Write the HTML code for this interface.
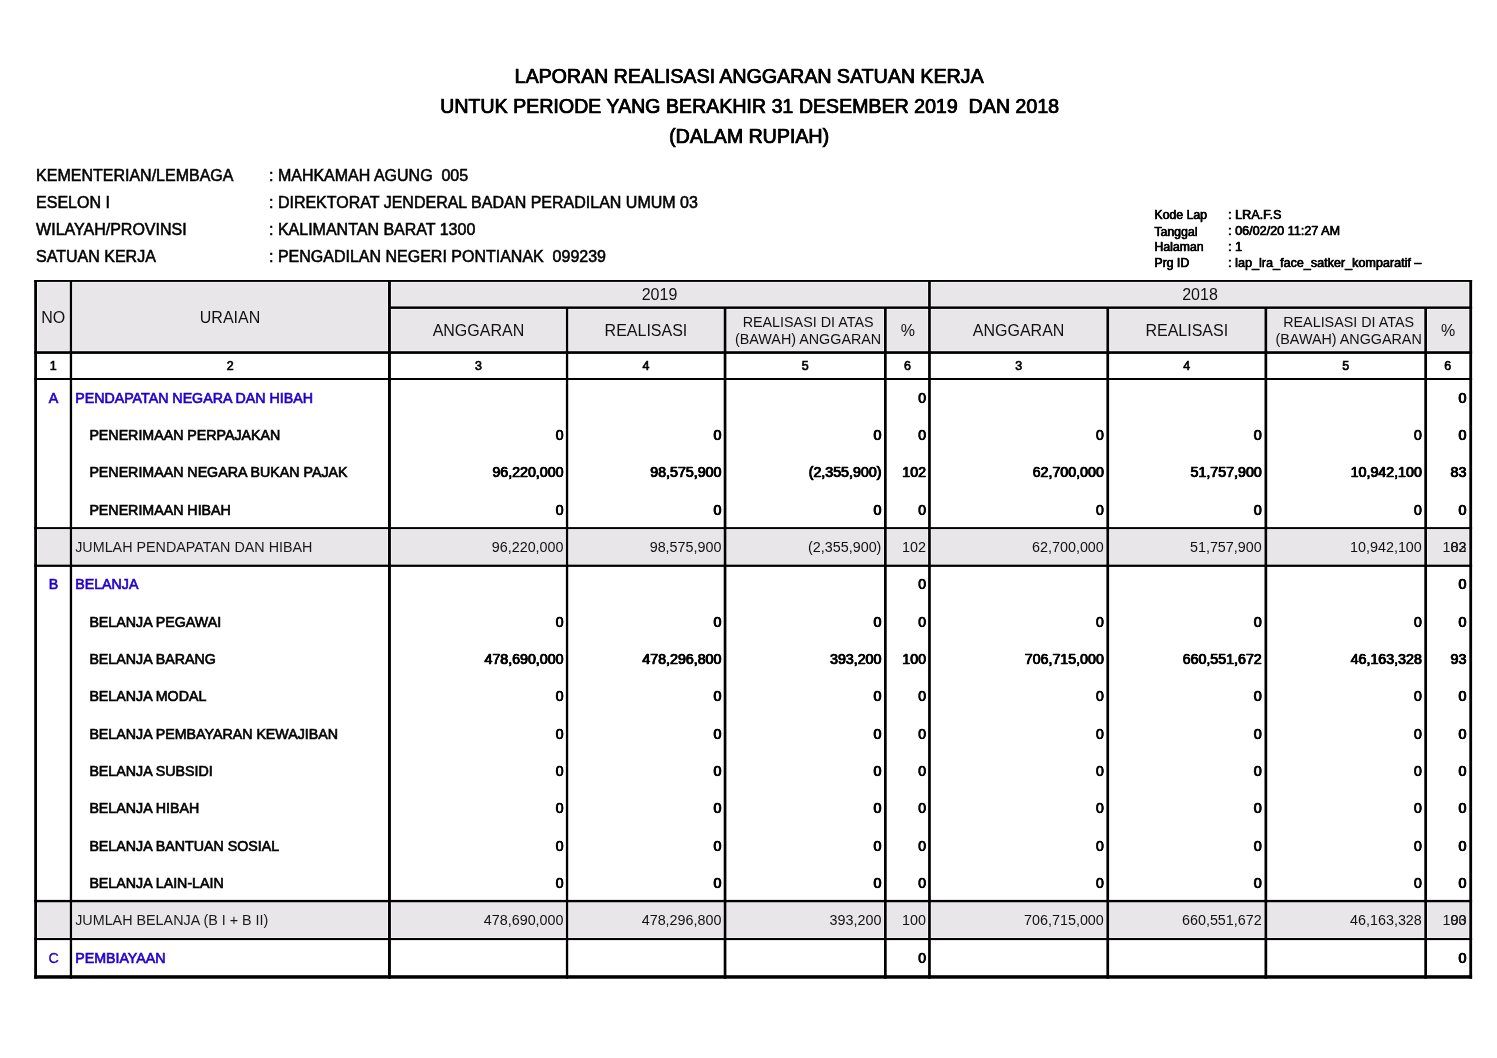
<!DOCTYPE html>
<html><head><meta charset="utf-8"><title>Laporan Realisasi Anggaran</title>
<style>
html,body{margin:0;padding:0;background:#fff;}
body{width:1497px;height:1058px;position:relative;overflow:hidden;font-family:"Liberation Sans",sans-serif;color:#000;}
.r{position:absolute;}
.t{position:absolute;white-space:nowrap;color:#111;}
#pg{position:absolute;left:0;top:0;width:1497px;height:1058px;will-change:transform;}
.b{color:#000;-webkit-text-stroke:0.65px currentColor;}
.n{-webkit-text-stroke:0.5px currentColor;text-shadow:0.35px 0 0 currentColor,0.7px 0 0 currentColor;}
.h{-webkit-text-stroke:0.55px currentColor;}
.c{-webkit-text-stroke:0.3px currentColor;}
.b2{-webkit-text-stroke:0.5px currentColor;text-shadow:0.4px 0 0 currentColor;}
.b3{-webkit-text-stroke:0.6px currentColor;text-shadow:0.5px 0 0 currentColor;transform:scaleY(1.035);transform-origin:0 84.65%;}
</style></head><body><div id="pg">
<svg width="1497" height="1058" viewBox="0 0 1497 1058" style="position:absolute;left:0;top:0" fill="#000"><rect x="37.55" y="282.45" width="31.70" height="68.20" fill="#e8e6e9"/><rect x="72.65" y="282.45" width="314.80" height="68.20" fill="#e8e6e9"/><rect x="391.45" y="282.45" width="536.10" height="23.40" fill="#e8e6e9"/><rect x="931.35" y="282.45" width="537.40" height="23.40" fill="#e8e6e9"/><rect x="391.45" y="309.45" width="173.90" height="41.20" fill="#e8e6e9"/><rect x="568.75" y="309.45" width="154.40" height="41.20" fill="#e8e6e9"/><rect x="726.95" y="309.45" width="156.50" height="41.20" fill="#e8e6e9"/><rect x="887.25" y="309.45" width="40.30" height="41.20" fill="#e8e6e9"/><rect x="931.35" y="309.45" width="174.50" height="41.20" fill="#e8e6e9"/><rect x="1109.65" y="309.45" width="154.30" height="41.20" fill="#e8e6e9"/><rect x="1267.75" y="309.45" width="156.00" height="41.20" fill="#e8e6e9"/><rect x="1427.55" y="309.45" width="41.20" height="41.20" fill="#e8e6e9"/><rect x="37.55" y="529.65" width="31.70" height="34.40" fill="#e8e6e9"/><rect x="37.55" y="902.85" width="31.70" height="34.60" fill="#e8e6e9"/><rect x="72.65" y="529.65" width="314.80" height="34.40" fill="#e8e6e9"/><rect x="72.65" y="902.85" width="314.80" height="34.60" fill="#e8e6e9"/><rect x="391.45" y="529.65" width="173.90" height="34.40" fill="#e8e6e9"/><rect x="391.45" y="902.85" width="173.90" height="34.60" fill="#e8e6e9"/><rect x="568.75" y="529.65" width="154.40" height="34.40" fill="#e8e6e9"/><rect x="568.75" y="902.85" width="154.40" height="34.60" fill="#e8e6e9"/><rect x="726.95" y="529.65" width="156.50" height="34.40" fill="#e8e6e9"/><rect x="726.95" y="902.85" width="156.50" height="34.60" fill="#e8e6e9"/><rect x="887.25" y="529.65" width="40.30" height="34.40" fill="#e8e6e9"/><rect x="887.25" y="902.85" width="40.30" height="34.60" fill="#e8e6e9"/><rect x="931.35" y="529.65" width="174.50" height="34.40" fill="#e8e6e9"/><rect x="931.35" y="902.85" width="174.50" height="34.60" fill="#e8e6e9"/><rect x="1109.65" y="529.65" width="154.30" height="34.40" fill="#e8e6e9"/><rect x="1109.65" y="902.85" width="154.30" height="34.60" fill="#e8e6e9"/><rect x="1267.75" y="529.65" width="156.00" height="34.40" fill="#e8e6e9"/><rect x="1267.75" y="902.85" width="156.00" height="34.60" fill="#e8e6e9"/><rect x="1427.55" y="529.65" width="41.20" height="34.40" fill="#e8e6e9"/><rect x="1427.55" y="902.85" width="41.20" height="34.60" fill="#e8e6e9"/><rect x="34.20" y="280.00" width="1437.90" height="1.90"/><rect x="34.20" y="351.20" width="1437.90" height="2.70"/><rect x="34.20" y="378.00" width="1437.90" height="2.00"/><rect x="34.20" y="527.10" width="1437.90" height="2.00"/><rect x="34.20" y="564.60" width="1437.90" height="2.30"/><rect x="34.20" y="899.90" width="1437.90" height="2.40"/><rect x="34.20" y="938.00" width="1437.90" height="2.10"/><rect x="34.20" y="975.20" width="1437.90" height="3.50"/><rect x="388.10" y="306.40" width="1084.00" height="2.50"/><rect x="34.20" y="280.00" width="2.80" height="698.70"/><rect x="69.80" y="280.00" width="2.30" height="698.70"/><rect x="388.00" y="280.00" width="2.90" height="698.70"/><rect x="565.90" y="307.20" width="2.30" height="671.50"/><rect x="723.70" y="307.20" width="2.70" height="671.50"/><rect x="884.00" y="307.20" width="2.70" height="671.50"/><rect x="928.10" y="280.00" width="2.70" height="698.70"/><rect x="1106.40" y="307.20" width="2.70" height="671.50"/><rect x="1264.50" y="307.20" width="2.70" height="671.50"/><rect x="1424.30" y="307.20" width="2.70" height="671.50"/><rect x="1469.30" y="280.00" width="2.80" height="698.70"/></svg>
<div class="t b b3" style="font-size:19.6px;line-height:19.6px;top:67.41px;left:349.00px;width:800px;text-align:center;">LAPORAN REALISASI ANGGARAN SATUAN KERJA</div>
<div class="t b b3" style="font-size:19.6px;line-height:19.6px;top:97.41px;left:349.50px;width:800px;text-align:center;">UNTUK PERIODE YANG BERAKHIR 31 DESEMBER 2019&nbsp; DAN 2018</div>
<div class="t b b3" style="font-size:19.6px;line-height:19.6px;top:126.91px;left:349.00px;width:800px;text-align:center;">(DALAM RUPIAH)</div>
<div class="t b h" style="font-size:16px;line-height:16px;top:168.46px;left:36.10px;">KEMENTERIAN/LEMBAGA</div>
<div class="t b h" style="font-size:16px;line-height:16px;top:168.46px;left:269.00px;">: MAHKAMAH AGUNG&nbsp; 005</div>
<div class="t b h" style="font-size:16px;line-height:16px;top:195.26px;left:36.10px;">ESELON I</div>
<div class="t b h" style="font-size:16px;line-height:16px;top:195.26px;left:269.00px;">: DIREKTORAT JENDERAL BADAN PERADILAN UMUM 03</div>
<div class="t b h" style="font-size:16px;line-height:16px;top:221.76px;left:36.10px;">WILAYAH/PROVINSI</div>
<div class="t b h" style="font-size:16px;line-height:16px;top:221.76px;left:269.00px;">: KALIMANTAN BARAT 1300</div>
<div class="t b h" style="font-size:16px;line-height:16px;top:248.56px;left:36.10px;">SATUAN KERJA</div>
<div class="t b h" style="font-size:16px;line-height:16px;top:248.56px;left:269.00px;">: PENGADILAN NEGERI PONTIANAK&nbsp; 099239</div>
<div class="t b b2" style="font-size:12.3px;line-height:12.3px;top:209.39px;left:1154.30px;">Kode Lap</div>
<div class="t b b2" style="font-size:12.6px;line-height:12.6px;top:209.13px;left:1228.10px;">: LRA.F.S</div>
<div class="t b b2" style="font-size:12.3px;line-height:12.3px;top:225.69px;left:1154.30px;">Tanggal</div>
<div class="t b b2" style="font-size:12.6px;line-height:12.6px;top:225.43px;left:1228.10px;">: 06/02/20 11:27 AM</div>
<div class="t b b2" style="font-size:12.3px;line-height:12.3px;top:241.09px;left:1154.30px;">Halaman</div>
<div class="t b b2" style="font-size:12.6px;line-height:12.6px;top:240.83px;left:1228.10px;">: 1</div>
<div class="t b b2" style="font-size:12.3px;line-height:12.3px;top:257.39px;left:1154.30px;">Prg ID</div>
<div class="t b b2" style="font-size:12.6px;line-height:12.6px;top:257.13px;left:1228.10px;">: lap_lra_face_satker_komparatif &ndash;</div>
<div class="t " style="font-size:16px;line-height:16px;top:310.46px;left:-346.70px;width:800px;text-align:center;">NO</div>
<div class="t " style="font-size:16px;line-height:16px;top:310.46px;left:-170.00px;width:800px;text-align:center;">URAIAN</div>
<div class="t " style="font-size:16px;line-height:16px;top:286.86px;left:259.50px;width:800px;text-align:center;">2019</div>
<div class="t " style="font-size:16px;line-height:16px;top:286.86px;left:800.00px;width:800px;text-align:center;">2018</div>
<div class="t " style="font-size:16px;line-height:16px;top:322.66px;left:78.45px;width:800px;text-align:center;">ANGGARAN</div>
<div class="t " style="font-size:16px;line-height:16px;top:322.66px;left:618.60px;width:800px;text-align:center;">ANGGARAN</div>
<div class="t " style="font-size:16px;line-height:16px;top:322.66px;left:245.95px;width:800px;text-align:center;">REALISASI</div>
<div class="t " style="font-size:16px;line-height:16px;top:322.66px;left:786.80px;width:800px;text-align:center;">REALISASI</div>
<div class="t " style="font-size:14.34px;line-height:14.34px;top:315.06px;left:408.10px;width:800px;text-align:center;">REALISASI DI ATAS</div>
<div class="t " style="font-size:14.34px;line-height:14.34px;top:331.86px;left:408.10px;width:800px;text-align:center;">(BAWAH) ANGGARAN</div>
<div class="t " style="font-size:14.34px;line-height:14.34px;top:315.06px;left:948.65px;width:800px;text-align:center;">REALISASI DI ATAS</div>
<div class="t " style="font-size:14.34px;line-height:14.34px;top:331.86px;left:948.65px;width:800px;text-align:center;">(BAWAH) ANGGARAN</div>
<div class="t " style="font-size:16px;line-height:16px;top:322.66px;left:507.90px;width:800px;text-align:center;">%</div>
<div class="t " style="font-size:16px;line-height:16px;top:322.66px;left:1048.20px;width:800px;text-align:center;">%</div>
<div class="t b" style="font-size:12.444px;line-height:12.444px;top:360.17px;left:-346.70px;width:800px;text-align:center;">1</div>
<div class="t b" style="font-size:12.444px;line-height:12.444px;top:360.17px;left:-169.70px;width:800px;text-align:center;">2</div>
<div class="t b" style="font-size:12.444px;line-height:12.444px;top:360.17px;left:78.45px;width:800px;text-align:center;">3</div>
<div class="t b" style="font-size:12.444px;line-height:12.444px;top:360.17px;left:245.95px;width:800px;text-align:center;">4</div>
<div class="t b" style="font-size:12.444px;line-height:12.444px;top:360.17px;left:405.20px;width:800px;text-align:center;">5</div>
<div class="t b" style="font-size:12.444px;line-height:12.444px;top:360.17px;left:507.40px;width:800px;text-align:center;">6</div>
<div class="t b" style="font-size:12.444px;line-height:12.444px;top:360.17px;left:618.60px;width:800px;text-align:center;">3</div>
<div class="t b" style="font-size:12.444px;line-height:12.444px;top:360.17px;left:786.80px;width:800px;text-align:center;">4</div>
<div class="t b" style="font-size:12.444px;line-height:12.444px;top:360.17px;left:945.75px;width:800px;text-align:center;">5</div>
<div class="t b" style="font-size:12.444px;line-height:12.444px;top:360.17px;left:1047.70px;width:800px;text-align:center;">6</div>
<div class="t b" style="font-size:14.222px;line-height:14.222px;top:390.73px;color:#2200cc;left:-346.40px;width:800px;text-align:center;">A</div>
<div class="t b" style="font-size:14.222px;line-height:14.222px;top:390.73px;color:#2200cc;left:75.20px;">PENDAPATAN NEGARA DAN HIBAH</div>
<div class="t b n" style="font-size:14.222px;line-height:14.222px;top:390.73px;left:525.80px;width:400px;text-align:right;">0</div>
<div class="t b n" style="font-size:14.222px;line-height:14.222px;top:390.73px;left:1066.20px;width:400px;text-align:right;">0</div>
<div class="t b" style="font-size:14.222px;line-height:14.222px;top:428.06px;left:89.40px;">PENERIMAAN PERPAJAKAN</div>
<div class="t b n" style="font-size:14.222px;line-height:14.222px;top:428.06px;left:163.30px;width:400px;text-align:right;">0</div>
<div class="t b n" style="font-size:14.222px;line-height:14.222px;top:428.06px;left:321.20px;width:400px;text-align:right;">0</div>
<div class="t b n" style="font-size:14.222px;line-height:14.222px;top:428.06px;left:481.20px;width:400px;text-align:right;">0</div>
<div class="t b n" style="font-size:14.222px;line-height:14.222px;top:428.06px;left:525.80px;width:400px;text-align:right;">0</div>
<div class="t b n" style="font-size:14.222px;line-height:14.222px;top:428.06px;left:703.60px;width:400px;text-align:right;">0</div>
<div class="t b n" style="font-size:14.222px;line-height:14.222px;top:428.06px;left:861.50px;width:400px;text-align:right;">0</div>
<div class="t b n" style="font-size:14.222px;line-height:14.222px;top:428.06px;left:1021.60px;width:400px;text-align:right;">0</div>
<div class="t b n" style="font-size:14.222px;line-height:14.222px;top:428.06px;left:1066.20px;width:400px;text-align:right;">0</div>
<div class="t b" style="font-size:14.222px;line-height:14.222px;top:465.39px;left:89.40px;">PENERIMAAN NEGARA BUKAN PAJAK</div>
<div class="t b n" style="font-size:14.222px;line-height:14.222px;top:465.39px;left:163.30px;width:400px;text-align:right;">96,220,000</div>
<div class="t b n" style="font-size:14.222px;line-height:14.222px;top:465.39px;left:321.20px;width:400px;text-align:right;">98,575,900</div>
<div class="t b n" style="font-size:14.222px;line-height:14.222px;top:465.39px;left:481.20px;width:400px;text-align:right;">(2,355,900)</div>
<div class="t b n" style="font-size:14.222px;line-height:14.222px;top:465.39px;left:525.80px;width:400px;text-align:right;">102</div>
<div class="t b n" style="font-size:14.222px;line-height:14.222px;top:465.39px;left:703.60px;width:400px;text-align:right;">62,700,000</div>
<div class="t b n" style="font-size:14.222px;line-height:14.222px;top:465.39px;left:861.50px;width:400px;text-align:right;">51,757,900</div>
<div class="t b n" style="font-size:14.222px;line-height:14.222px;top:465.39px;left:1021.60px;width:400px;text-align:right;">10,942,100</div>
<div class="t b n" style="font-size:14.222px;line-height:14.222px;top:465.39px;left:1066.20px;width:400px;text-align:right;">83</div>
<div class="t b" style="font-size:14.222px;line-height:14.222px;top:502.73px;left:89.40px;">PENERIMAAN HIBAH</div>
<div class="t b n" style="font-size:14.222px;line-height:14.222px;top:502.73px;left:163.30px;width:400px;text-align:right;">0</div>
<div class="t b n" style="font-size:14.222px;line-height:14.222px;top:502.73px;left:321.20px;width:400px;text-align:right;">0</div>
<div class="t b n" style="font-size:14.222px;line-height:14.222px;top:502.73px;left:481.20px;width:400px;text-align:right;">0</div>
<div class="t b n" style="font-size:14.222px;line-height:14.222px;top:502.73px;left:525.80px;width:400px;text-align:right;">0</div>
<div class="t b n" style="font-size:14.222px;line-height:14.222px;top:502.73px;left:703.60px;width:400px;text-align:right;">0</div>
<div class="t b n" style="font-size:14.222px;line-height:14.222px;top:502.73px;left:861.50px;width:400px;text-align:right;">0</div>
<div class="t b n" style="font-size:14.222px;line-height:14.222px;top:502.73px;left:1021.60px;width:400px;text-align:right;">0</div>
<div class="t b n" style="font-size:14.222px;line-height:14.222px;top:502.73px;left:1066.20px;width:400px;text-align:right;">0</div>
<div class="t " style="font-size:14.34px;line-height:14.34px;top:539.96px;color:#1a1a1a;left:75.20px;">JUMLAH PENDAPATAN DAN HIBAH</div>
<div class="t " style="font-size:14.34px;line-height:14.34px;top:539.96px;left:163.50px;width:400px;text-align:right;">96,220,000</div>
<div class="t " style="font-size:14.34px;line-height:14.34px;top:539.96px;left:321.40px;width:400px;text-align:right;">98,575,900</div>
<div class="t " style="font-size:14.34px;line-height:14.34px;top:539.96px;left:481.40px;width:400px;text-align:right;">(2,355,900)</div>
<div class="t " style="font-size:14.34px;line-height:14.34px;top:539.96px;left:526.00px;width:400px;text-align:right;">102</div>
<div class="t " style="font-size:14.34px;line-height:14.34px;top:539.96px;left:703.80px;width:400px;text-align:right;">62,700,000</div>
<div class="t " style="font-size:14.34px;line-height:14.34px;top:539.96px;left:861.70px;width:400px;text-align:right;">51,757,900</div>
<div class="t " style="font-size:14.34px;line-height:14.34px;top:539.96px;left:1021.80px;width:400px;text-align:right;">10,942,100</div>
<div class="t " style="font-size:14.34px;line-height:14.34px;top:539.96px;left:1066.40px;width:400px;text-align:right;">102</div>
<div class="t " style="font-size:14.34px;line-height:14.34px;top:539.96px;left:1066.40px;width:400px;text-align:right;">83</div>
<div class="t b" style="font-size:14.222px;line-height:14.222px;top:577.39px;color:#2200cc;left:-346.40px;width:800px;text-align:center;">B</div>
<div class="t b" style="font-size:14.222px;line-height:14.222px;top:577.39px;color:#2200cc;left:75.20px;">BELANJA</div>
<div class="t b n" style="font-size:14.222px;line-height:14.222px;top:577.39px;left:525.80px;width:400px;text-align:right;">0</div>
<div class="t b n" style="font-size:14.222px;line-height:14.222px;top:577.39px;left:1066.20px;width:400px;text-align:right;">0</div>
<div class="t b" style="font-size:14.222px;line-height:14.222px;top:614.73px;left:89.40px;">BELANJA PEGAWAI</div>
<div class="t b n" style="font-size:14.222px;line-height:14.222px;top:614.73px;left:163.30px;width:400px;text-align:right;">0</div>
<div class="t b n" style="font-size:14.222px;line-height:14.222px;top:614.73px;left:321.20px;width:400px;text-align:right;">0</div>
<div class="t b n" style="font-size:14.222px;line-height:14.222px;top:614.73px;left:481.20px;width:400px;text-align:right;">0</div>
<div class="t b n" style="font-size:14.222px;line-height:14.222px;top:614.73px;left:525.80px;width:400px;text-align:right;">0</div>
<div class="t b n" style="font-size:14.222px;line-height:14.222px;top:614.73px;left:703.60px;width:400px;text-align:right;">0</div>
<div class="t b n" style="font-size:14.222px;line-height:14.222px;top:614.73px;left:861.50px;width:400px;text-align:right;">0</div>
<div class="t b n" style="font-size:14.222px;line-height:14.222px;top:614.73px;left:1021.60px;width:400px;text-align:right;">0</div>
<div class="t b n" style="font-size:14.222px;line-height:14.222px;top:614.73px;left:1066.20px;width:400px;text-align:right;">0</div>
<div class="t b" style="font-size:14.222px;line-height:14.222px;top:652.06px;left:89.40px;">BELANJA BARANG</div>
<div class="t b n" style="font-size:14.222px;line-height:14.222px;top:652.06px;left:163.30px;width:400px;text-align:right;">478,690,000</div>
<div class="t b n" style="font-size:14.222px;line-height:14.222px;top:652.06px;left:321.20px;width:400px;text-align:right;">478,296,800</div>
<div class="t b n" style="font-size:14.222px;line-height:14.222px;top:652.06px;left:481.20px;width:400px;text-align:right;">393,200</div>
<div class="t b n" style="font-size:14.222px;line-height:14.222px;top:652.06px;left:525.80px;width:400px;text-align:right;">100</div>
<div class="t b n" style="font-size:14.222px;line-height:14.222px;top:652.06px;left:703.60px;width:400px;text-align:right;">706,715,000</div>
<div class="t b n" style="font-size:14.222px;line-height:14.222px;top:652.06px;left:861.50px;width:400px;text-align:right;">660,551,672</div>
<div class="t b n" style="font-size:14.222px;line-height:14.222px;top:652.06px;left:1021.60px;width:400px;text-align:right;">46,163,328</div>
<div class="t b n" style="font-size:14.222px;line-height:14.222px;top:652.06px;left:1066.20px;width:400px;text-align:right;">93</div>
<div class="t b" style="font-size:14.222px;line-height:14.222px;top:689.39px;left:89.40px;">BELANJA MODAL</div>
<div class="t b n" style="font-size:14.222px;line-height:14.222px;top:689.39px;left:163.30px;width:400px;text-align:right;">0</div>
<div class="t b n" style="font-size:14.222px;line-height:14.222px;top:689.39px;left:321.20px;width:400px;text-align:right;">0</div>
<div class="t b n" style="font-size:14.222px;line-height:14.222px;top:689.39px;left:481.20px;width:400px;text-align:right;">0</div>
<div class="t b n" style="font-size:14.222px;line-height:14.222px;top:689.39px;left:525.80px;width:400px;text-align:right;">0</div>
<div class="t b n" style="font-size:14.222px;line-height:14.222px;top:689.39px;left:703.60px;width:400px;text-align:right;">0</div>
<div class="t b n" style="font-size:14.222px;line-height:14.222px;top:689.39px;left:861.50px;width:400px;text-align:right;">0</div>
<div class="t b n" style="font-size:14.222px;line-height:14.222px;top:689.39px;left:1021.60px;width:400px;text-align:right;">0</div>
<div class="t b n" style="font-size:14.222px;line-height:14.222px;top:689.39px;left:1066.20px;width:400px;text-align:right;">0</div>
<div class="t b" style="font-size:14.222px;line-height:14.222px;top:726.72px;left:89.40px;">BELANJA PEMBAYARAN KEWAJIBAN</div>
<div class="t b n" style="font-size:14.222px;line-height:14.222px;top:726.72px;left:163.30px;width:400px;text-align:right;">0</div>
<div class="t b n" style="font-size:14.222px;line-height:14.222px;top:726.72px;left:321.20px;width:400px;text-align:right;">0</div>
<div class="t b n" style="font-size:14.222px;line-height:14.222px;top:726.72px;left:481.20px;width:400px;text-align:right;">0</div>
<div class="t b n" style="font-size:14.222px;line-height:14.222px;top:726.72px;left:525.80px;width:400px;text-align:right;">0</div>
<div class="t b n" style="font-size:14.222px;line-height:14.222px;top:726.72px;left:703.60px;width:400px;text-align:right;">0</div>
<div class="t b n" style="font-size:14.222px;line-height:14.222px;top:726.72px;left:861.50px;width:400px;text-align:right;">0</div>
<div class="t b n" style="font-size:14.222px;line-height:14.222px;top:726.72px;left:1021.60px;width:400px;text-align:right;">0</div>
<div class="t b n" style="font-size:14.222px;line-height:14.222px;top:726.72px;left:1066.20px;width:400px;text-align:right;">0</div>
<div class="t b" style="font-size:14.222px;line-height:14.222px;top:764.06px;left:89.40px;">BELANJA SUBSIDI</div>
<div class="t b n" style="font-size:14.222px;line-height:14.222px;top:764.06px;left:163.30px;width:400px;text-align:right;">0</div>
<div class="t b n" style="font-size:14.222px;line-height:14.222px;top:764.06px;left:321.20px;width:400px;text-align:right;">0</div>
<div class="t b n" style="font-size:14.222px;line-height:14.222px;top:764.06px;left:481.20px;width:400px;text-align:right;">0</div>
<div class="t b n" style="font-size:14.222px;line-height:14.222px;top:764.06px;left:525.80px;width:400px;text-align:right;">0</div>
<div class="t b n" style="font-size:14.222px;line-height:14.222px;top:764.06px;left:703.60px;width:400px;text-align:right;">0</div>
<div class="t b n" style="font-size:14.222px;line-height:14.222px;top:764.06px;left:861.50px;width:400px;text-align:right;">0</div>
<div class="t b n" style="font-size:14.222px;line-height:14.222px;top:764.06px;left:1021.60px;width:400px;text-align:right;">0</div>
<div class="t b n" style="font-size:14.222px;line-height:14.222px;top:764.06px;left:1066.20px;width:400px;text-align:right;">0</div>
<div class="t b" style="font-size:14.222px;line-height:14.222px;top:801.39px;left:89.40px;">BELANJA HIBAH</div>
<div class="t b n" style="font-size:14.222px;line-height:14.222px;top:801.39px;left:163.30px;width:400px;text-align:right;">0</div>
<div class="t b n" style="font-size:14.222px;line-height:14.222px;top:801.39px;left:321.20px;width:400px;text-align:right;">0</div>
<div class="t b n" style="font-size:14.222px;line-height:14.222px;top:801.39px;left:481.20px;width:400px;text-align:right;">0</div>
<div class="t b n" style="font-size:14.222px;line-height:14.222px;top:801.39px;left:525.80px;width:400px;text-align:right;">0</div>
<div class="t b n" style="font-size:14.222px;line-height:14.222px;top:801.39px;left:703.60px;width:400px;text-align:right;">0</div>
<div class="t b n" style="font-size:14.222px;line-height:14.222px;top:801.39px;left:861.50px;width:400px;text-align:right;">0</div>
<div class="t b n" style="font-size:14.222px;line-height:14.222px;top:801.39px;left:1021.60px;width:400px;text-align:right;">0</div>
<div class="t b n" style="font-size:14.222px;line-height:14.222px;top:801.39px;left:1066.20px;width:400px;text-align:right;">0</div>
<div class="t b" style="font-size:14.222px;line-height:14.222px;top:838.72px;left:89.40px;">BELANJA BANTUAN SOSIAL</div>
<div class="t b n" style="font-size:14.222px;line-height:14.222px;top:838.72px;left:163.30px;width:400px;text-align:right;">0</div>
<div class="t b n" style="font-size:14.222px;line-height:14.222px;top:838.72px;left:321.20px;width:400px;text-align:right;">0</div>
<div class="t b n" style="font-size:14.222px;line-height:14.222px;top:838.72px;left:481.20px;width:400px;text-align:right;">0</div>
<div class="t b n" style="font-size:14.222px;line-height:14.222px;top:838.72px;left:525.80px;width:400px;text-align:right;">0</div>
<div class="t b n" style="font-size:14.222px;line-height:14.222px;top:838.72px;left:703.60px;width:400px;text-align:right;">0</div>
<div class="t b n" style="font-size:14.222px;line-height:14.222px;top:838.72px;left:861.50px;width:400px;text-align:right;">0</div>
<div class="t b n" style="font-size:14.222px;line-height:14.222px;top:838.72px;left:1021.60px;width:400px;text-align:right;">0</div>
<div class="t b n" style="font-size:14.222px;line-height:14.222px;top:838.72px;left:1066.20px;width:400px;text-align:right;">0</div>
<div class="t b" style="font-size:14.222px;line-height:14.222px;top:876.06px;left:89.40px;">BELANJA LAIN-LAIN</div>
<div class="t b n" style="font-size:14.222px;line-height:14.222px;top:876.06px;left:163.30px;width:400px;text-align:right;">0</div>
<div class="t b n" style="font-size:14.222px;line-height:14.222px;top:876.06px;left:321.20px;width:400px;text-align:right;">0</div>
<div class="t b n" style="font-size:14.222px;line-height:14.222px;top:876.06px;left:481.20px;width:400px;text-align:right;">0</div>
<div class="t b n" style="font-size:14.222px;line-height:14.222px;top:876.06px;left:525.80px;width:400px;text-align:right;">0</div>
<div class="t b n" style="font-size:14.222px;line-height:14.222px;top:876.06px;left:703.60px;width:400px;text-align:right;">0</div>
<div class="t b n" style="font-size:14.222px;line-height:14.222px;top:876.06px;left:861.50px;width:400px;text-align:right;">0</div>
<div class="t b n" style="font-size:14.222px;line-height:14.222px;top:876.06px;left:1021.60px;width:400px;text-align:right;">0</div>
<div class="t b n" style="font-size:14.222px;line-height:14.222px;top:876.06px;left:1066.20px;width:400px;text-align:right;">0</div>
<div class="t " style="font-size:14.34px;line-height:14.34px;top:913.29px;color:#1a1a1a;left:75.20px;">JUMLAH BELANJA (B I + B II)</div>
<div class="t " style="font-size:14.34px;line-height:14.34px;top:913.29px;left:163.50px;width:400px;text-align:right;">478,690,000</div>
<div class="t " style="font-size:14.34px;line-height:14.34px;top:913.29px;left:321.40px;width:400px;text-align:right;">478,296,800</div>
<div class="t " style="font-size:14.34px;line-height:14.34px;top:913.29px;left:481.40px;width:400px;text-align:right;">393,200</div>
<div class="t " style="font-size:14.34px;line-height:14.34px;top:913.29px;left:526.00px;width:400px;text-align:right;">100</div>
<div class="t " style="font-size:14.34px;line-height:14.34px;top:913.29px;left:703.80px;width:400px;text-align:right;">706,715,000</div>
<div class="t " style="font-size:14.34px;line-height:14.34px;top:913.29px;left:861.70px;width:400px;text-align:right;">660,551,672</div>
<div class="t " style="font-size:14.34px;line-height:14.34px;top:913.29px;left:1021.80px;width:400px;text-align:right;">46,163,328</div>
<div class="t " style="font-size:14.34px;line-height:14.34px;top:913.29px;left:1066.40px;width:400px;text-align:right;">100</div>
<div class="t " style="font-size:14.34px;line-height:14.34px;top:913.29px;left:1066.40px;width:400px;text-align:right;">93</div>
<div class="t c" style="font-size:14.222px;line-height:14.222px;top:950.72px;color:#2200cc;left:-346.40px;width:800px;text-align:center;">C</div>
<div class="t b" style="font-size:14.222px;line-height:14.222px;top:950.72px;color:#2200cc;left:75.20px;">PEMBIAYAAN</div>
<div class="t b n" style="font-size:14.222px;line-height:14.222px;top:950.72px;left:525.80px;width:400px;text-align:right;">0</div>
<div class="t b n" style="font-size:14.222px;line-height:14.222px;top:950.72px;left:1066.20px;width:400px;text-align:right;">0</div>
</div></body></html>
